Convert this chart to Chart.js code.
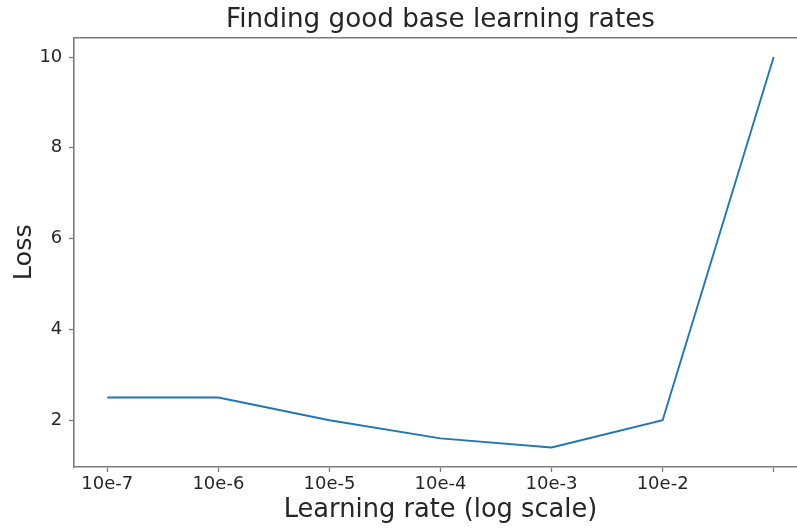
<!DOCTYPE html>
<html>
<head>
<meta charset="utf-8">
<title>Finding good base learning rates</title>
<script src="https://cdn.jsdelivr.net/npm/chart.js@4/dist/chart.umd.min.js"></script>
<style>
  html, body { margin: 0; padding: 0; background: #ffffff; overflow: hidden; }
  #wrap { width: 807px; height: 529px; }
</style>
</head>
<body>
<div id="wrap"><canvas id="chart" width="807" height="529"></canvas></div>
<script>
// Learning-rate sweep: loss at each base learning rate
const rateLabels = ['10e-7', '10e-6', '10e-5', '10e-4', '10e-3', '10e-2', ''];
const lossValues = [2.5, 2.5, 2.0, 1.6, 1.4, 2.0, 10.0];
const lossTicks = [2, 4, 6, 8, 10];

const FONT = 'DejaVu Sans';
const TEXT = '#262626';
const AXIS = '#7c7c7c';

const points = lossValues.map((v, i) => ({ x: i, y: v }));
const rateTicks = rateLabels.map((_, i) => i);

const whiteBg = {
  id: 'whiteBg',
  beforeDraw(chart) {
    const { ctx, width, height } = chart;
    ctx.save();
    ctx.fillStyle = '#ffffff';
    ctx.fillRect(0, 0, width, height);
    ctx.restore();
  }
};

new Chart(document.getElementById('chart'), {
  type: 'line',
  data: {
    datasets: [{
      data: points,
      borderColor: '#1f77b4',
      borderWidth: 1.9,
      pointRadius: 0,
      tension: 0,
      fill: false
    }]
  },
  options: {
    responsive: false,
    animation: false,
    devicePixelRatio: 1,
    layout: { padding: 0 },
    plugins: {
      legend: { display: false },
      tooltip: { enabled: false },
      title: {
        display: true,
        text: 'Finding good base learning rates',
        fullSize: false,
        color: TEXT,
        font: { family: FONT, size: 26.2, weight: 'normal', lineHeight: 1.2 },
        padding: { top: 4.5, bottom: 1.56 }
      }
    },
    scales: {
      x: {
        type: 'linear',
        position: 'bottom',
        min: -0.3,
        max: 6.3,
        afterBuildTicks(scale) { scale.ticks = rateTicks.map(v => ({ value: v })); },
        afterFit(scale) { scale.height = 62; },
        ticks: {
          color: TEXT,
          font: { family: FONT, size: 18 },
          padding: 2,
          maxRotation: 0,
          autoSkip: false,
          callback: (value) => rateLabels[value] ?? ''
        },
        grid: { drawOnChartArea: false, drawTicks: true, tickLength: 5, tickColor: AXIS, tickWidth: 1.3 },
        border: { display: true, color: AXIS, width: 1.6 },
        title: {
          display: true,
          text: 'Learning rate (log scale)',
          color: TEXT,
          font: { family: FONT, size: 25.7, lineHeight: 1.2 },
          padding: { top: 0, bottom: 3.4 }
        }
      },
      xTop: {
        type: 'linear',
        position: 'top',
        min: -0.3,
        max: 6.3,
        afterFit(scale) { scale.height = 0; },
        ticks: { display: false },
        grid: { display: false, drawTicks: false },
        border: { display: true, color: AXIS, width: 1.6 }
      },
      y: {
        type: 'linear',
        position: 'left',
        min: 0.97,
        max: 10.43,
        afterBuildTicks(scale) { scale.ticks = lossTicks.map(v => ({ value: v })); },
        afterFit(scale) { scale.width = 74; },
        ticks: {
          color: TEXT,
          font: { family: FONT, size: 18 },
          padding: 6.7
        },
        grid: { drawOnChartArea: false, drawTicks: true, tickLength: 5, tickColor: AXIS, tickWidth: 1.3 },
        border: { display: true, color: AXIS, width: 1.6 },
        title: {
          display: true,
          text: 'Loss',
          color: TEXT,
          font: { family: FONT, size: 25.5, lineHeight: 1.2 },
          padding: { top: 9.1, bottom: 0 }
        }
      }
    }
  },
  plugins: [whiteBg]
});
</script>
</body>
</html>
